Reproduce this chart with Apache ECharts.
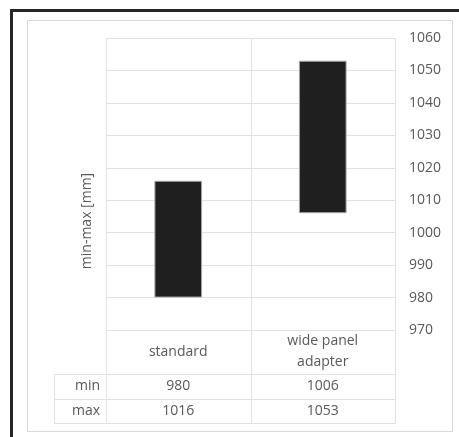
<!DOCTYPE html>
<html>
<head>
<meta charset="utf-8">
<script src="https://cdn.jsdelivr.net/npm/echarts@6/dist/echarts.min.js"></script>
<style>
html,body{margin:0;padding:0;background:#fff;overflow:hidden;}
#c{width:459px;height:437px;}
</style>
</head>
<body>
<div id="c"></div>
<script>
const categories = ['standard', 'wide panel\nadapter'];
const minValues = [980, 1006];
const maxValues = [1016, 1053];
const rowLabels = ['min', 'max'];
const yMin = 970, yMax = 1060, yStep = 10;
const axisTitle = 'min-max [mm]';

const FONT = '"Open Sans", "DejaVu Sans", sans-serif';
const TXT = '#595959';
const LINE = '#e2e2e2';
const G = {left: 106, top: 38, width: 289, height: 292};

const chart = echarts.init(document.getElementById('c'), null, {renderer: 'canvas'});

const spans = maxValues.map((v, i) => v - minValues[i]);

chart.setOption({
  animation: false,
  backgroundColor: '#fff',
  grid: {left: G.left, top: G.top, width: G.width, height: G.height, containLabel: false},
  xAxis: {
    type: 'category',
    data: categories,
    boundaryGap: true,
    axisLine: {show: false},
    axisTick: {show: false},
    splitLine: {show: false},
    axisLabel: {
      color: TXT, fontFamily: FONT, fontSize: 14, lineHeight: 21,
      margin: 22, verticalAlign: 'middle', interval: 0
    }
  },
  yAxis: {
    type: 'value',
    position: 'right',
    min: yMin, max: yMax, interval: yStep,
    axisLine: {show: false},
    axisTick: {show: false},
    splitLine: {show: true, lineStyle: {color: LINE, width: 1}},
    axisLabel: {color: TXT, fontFamily: FONT, fontSize: 14, align: 'left', margin: 14,
      formatter: v => String(v)}
  },
  series: [
    {
      type: 'bar', stack: 'r', data: minValues, barWidth: '33%',
      itemStyle: {color: 'rgba(0,0,0,0)'}, silent: true
    },
    {
      type: 'bar', stack: 'r', data: spans, barWidth: '33%',
      itemStyle: {color: '#1f1f1f', borderColor: '#a8a8a8', borderWidth: 1}
    }
  ]
});

const xL = G.left, xR = G.left + G.width;
const yBottom = G.top + G.height;
const headerH = 44, rowH = 24.5;
const tableLeft = 54;
const rowTop = yBottom + headerH;
const tableBottom = rowTop + rowH * rowLabels.length;
const catCenters = categories.map((c, i) => chart.convertToPixel({xAxisIndex: 0}, i));
const bandW = G.width / categories.length;

const g = [];
g.push({type: 'line', shape: {x1: 11.5, y1: 10.5, x2: 470, y2: 10.5}, style: {stroke: '#262626', lineWidth: 3}});
g.push({type: 'line', shape: {x1: 11.5, y1: 9, x2: 11.5, y2: 450}, style: {stroke: '#262626', lineWidth: 3}});
g.push({type: 'rect', shape: {x: 27.5, y: 20.5, width: 425, height: 411}, style: {fill: 'none', stroke: '#d9d9d9', lineWidth: 1}});
for (let i = 0; i <= categories.length; i++) {
  const x = Math.round(xL + i * bandW) + 0.5;
  g.push({type: 'line', shape: {x1: x, y1: G.top, x2: x, y2: tableBottom}, style: {stroke: LINE, lineWidth: 1}});
}
g.push({type: 'line', shape: {x1: tableLeft + 0.5, y1: rowTop, x2: tableLeft + 0.5, y2: tableBottom}, style: {stroke: LINE, lineWidth: 1}});
for (let r = 0; r <= rowLabels.length; r++) {
  const y = Math.round(rowTop + r * rowH) + 0.5;
  g.push({type: 'line', shape: {x1: tableLeft, y1: y, x2: xR + 0.5, y2: y}, style: {stroke: LINE, lineWidth: 1}});
}
const rows = [minValues, maxValues];
rowLabels.forEach((lab, r) => {
  const yc = rowTop + r * rowH + rowH / 2;
  g.push({type: 'text', x: xL - 6, y: yc, style: {text: lab, fill: TXT, font: '14px ' + FONT, textAlign: 'right', textVerticalAlign: 'middle'}});
  rows[r].forEach((v, i) => {
    g.push({type: 'text', x: catCenters[i], y: yc, style: {text: String(v), fill: TXT, font: '14px ' + FONT, textAlign: 'center', textVerticalAlign: 'middle'}});
  });
});
g.push({type: 'text', x: 87, y: 221, rotation: Math.PI / 2, style: {text: axisTitle, fill: TXT, font: '14px ' + FONT, textAlign: 'center', textVerticalAlign: 'middle'}});

chart.setOption({graphic: g});
</script>
</body>
</html>
